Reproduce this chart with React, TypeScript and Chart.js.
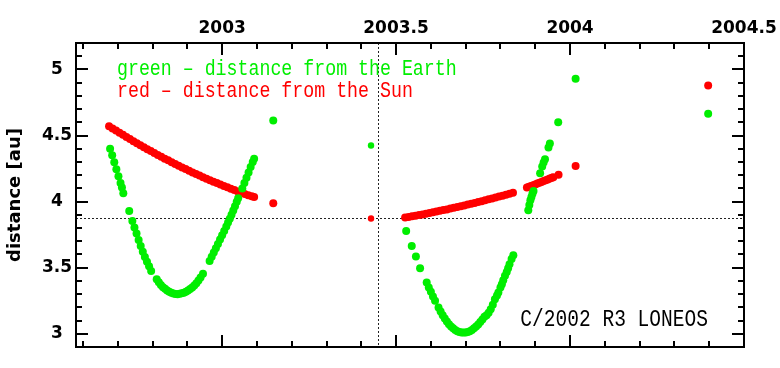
import React, { useEffect, useRef } from 'react';
import { Chart, registerables } from 'chart.js';
Chart.register(...registerables);

// ---- data ----
const earthYears = [
  2002.678, 2002.684, 2002.690, 2002.696, 2002.702, 2002.708, 2002.712,
  2002.716, 2002.733,
  2002.742, 2002.748, 2002.754, 2002.760, 2002.766, 2002.772, 2002.778, 2002.784, 2002.790, 2002.796,
  2002.812, 2002.818, 2002.824, 2002.830, 2002.836, 2002.842, 2002.848, 2002.854, 2002.860, 2002.866,
  2002.872, 2002.878, 2002.884, 2002.890, 2002.896, 2002.902, 2002.908, 2002.914, 2002.920, 2002.926,
  2002.932, 2002.938, 2002.945,
  2002.964, 2002.970, 2002.976, 2002.982, 2002.988, 2002.994, 2003.000, 2003.006, 2003.012, 2003.017,
  2003.022, 2003.027, 2003.032, 2003.037, 2003.042, 2003.046,
  2003.058, 2003.064, 2003.070, 2003.076, 2003.082, 2003.088, 2003.092,
  2003.147,
  2003.529, 2003.545, 2003.557, 2003.569,
  2003.588, 2003.594, 2003.600, 2003.606, 2003.612,
  2003.622, 2003.628, 2003.634, 2003.640, 2003.646, 2003.652, 2003.658, 2003.664, 2003.670, 2003.676,
  2003.682, 2003.688, 2003.694, 2003.700, 2003.706, 2003.712, 2003.718, 2003.724, 2003.730, 2003.736,
  2003.742, 2003.748, 2003.754, 2003.760, 2003.766, 2003.772, 2003.778, 2003.784, 2003.790, 2003.794,
  2003.800, 2003.804, 2003.808, 2003.813, 2003.818, 2003.822, 2003.826, 2003.832, 2003.837,
  2003.880, 2003.883, 2003.886, 2003.889, 2003.892, 2003.895,
  2003.914, 2003.920, 2003.924, 2003.928, 2003.938, 2003.942, 2003.966,
  2004.016, 2004.397,
];
const earthDist = [
  4.400, 4.350, 4.298, 4.245, 4.192, 4.140, 4.106,
  4.063, 3.929,
  3.853, 3.805, 3.758, 3.710, 3.664, 3.620, 3.580, 3.545, 3.510, 3.475,
  3.413, 3.390, 3.370, 3.353, 3.340, 3.328, 3.318, 3.310, 3.304, 3.301,
  3.300, 3.302, 3.306, 3.311, 3.318, 3.327, 3.338, 3.351, 3.366, 3.383,
  3.403, 3.425, 3.455,
  3.551, 3.583, 3.615, 3.648, 3.680, 3.713, 3.746, 3.778, 3.812, 3.841,
  3.870, 3.900, 3.932, 3.965, 3.998, 4.025,
  4.100, 4.140, 4.180, 4.220, 4.262, 4.300, 4.325,
  4.614,
  3.778, 3.664, 3.584, 3.496,
  3.388, 3.350, 3.318, 3.283, 3.249,
  3.199, 3.168, 3.140, 3.115, 3.093, 3.073, 3.056, 3.041, 3.029, 3.020,
  3.014, 3.010, 3.009, 3.010, 3.014, 3.020, 3.029, 3.041, 3.055, 3.071,
  3.089, 3.108, 3.128, 3.140, 3.160, 3.185, 3.220, 3.262, 3.290, 3.312,
  3.350, 3.375, 3.405, 3.440, 3.468, 3.495, 3.526, 3.565, 3.594,
  3.934, 3.975, 4.010, 4.035, 4.060, 4.080,
  4.214, 4.265, 4.295, 4.320, 4.410, 4.440, 4.600,
  4.930, 4.665,
];

const sunYears = [
  2002.675, 2002.685, 2002.695, 2002.705, 2002.715, 2002.725, 2002.735, 2002.745, 2002.755, 2002.765,
  2002.775, 2002.785, 2002.795, 2002.805, 2002.815, 2002.825, 2002.835, 2002.845, 2002.855, 2002.865,
  2002.875, 2002.885, 2002.895, 2002.905, 2002.915, 2002.925, 2002.935, 2002.945, 2002.955, 2002.965,
  2002.975, 2002.985, 2002.995, 2003.005, 2003.015, 2003.025, 2003.035, 2003.045, 2003.055, 2003.065,
  2003.075, 2003.085, 2003.092,
  2003.147,
  2003.526, 2003.536, 2003.546, 2003.556, 2003.566, 2003.576, 2003.586, 2003.596, 2003.606, 2003.616,
  2003.626, 2003.636, 2003.646, 2003.656, 2003.666, 2003.676, 2003.686, 2003.696, 2003.706, 2003.716,
  2003.726, 2003.736, 2003.746, 2003.756, 2003.766, 2003.776, 2003.786, 2003.796, 2003.806, 2003.816,
  2003.826, 2003.836,
  2003.876, 2003.882, 2003.888, 2003.894, 2003.900, 2003.906, 2003.912, 2003.918, 2003.924, 2003.930,
  2003.936, 2003.942, 2003.948, 2003.952,
  2003.967, 2004.016, 2004.397,
];
const sunDist = [
  4.571, 4.554, 4.538, 4.521, 4.505, 4.489, 4.473, 4.457, 4.442, 4.427,
  4.412, 4.397, 4.382, 4.368, 4.353, 4.339, 4.325, 4.312, 4.298, 4.285,
  4.272, 4.259, 4.246, 4.233, 4.221, 4.209, 4.197, 4.185, 4.173, 4.162,
  4.151, 4.140, 4.129, 4.118, 4.108, 4.097, 4.087, 4.077, 4.068, 4.058,
  4.049, 4.040, 4.035,
  3.987,
  3.879, 3.884, 3.889, 3.893, 3.898, 3.903, 3.909, 3.914, 3.919, 3.925,
  3.930, 3.936, 3.941, 3.947, 3.953, 3.959, 3.965, 3.971, 3.978, 3.984,
  3.990, 3.997, 4.003, 4.010, 4.017, 4.023, 4.031, 4.038, 4.045, 4.052,
  4.060, 4.067,
  4.106, 4.112, 4.118, 4.124, 4.130, 4.137, 4.143, 4.149, 4.155, 4.162,
  4.168, 4.174, 4.180, 4.185,
  4.204, 4.269, 4.879,
];

// single observation close to perihelion (drawn slightly smaller)
const epochYears = [2003.428];
const epochEarth = [4.425];
const epochSun = [3.872];

const perihelionYear = 2003.447;
const perihelionDist = 3.874;

const xTickValues = [2003, 2003.5, 2004, 2004.5];
const xTickLabels = ['2003', '2003.5', '2004', '2004.5'];
const yTickValues = [3, 3.5, 4, 4.5, 5];
const yTickLabels = ['3', '3.5', '4', '4.5', '5'];
const xMin = 2002.58;
const xMax = 2004.5;
const yMin = 2.9;
const yMax = 5.2;

const yTitle = 'distance [au]';
const legendLines = ['green \u2013 distance from the Earth', 'red \u2013 distance from the Sun'];
const objectName = 'C/2002 R3 LONEOS';

const GREEN = '#00ee00';
const RED = '#ff0000';

const toPoints = (xs: number[], ys: number[]) => xs.map((x, i) => ({ x, y: ys[i] }));

const drawScaledText = (ctx: any, text: string, x: number, y: number, sx: number, align: string) => {
  ctx.save();
  ctx.translate(x, y);
  ctx.scale(sx, 1);
  ctx.textAlign = align;
  ctx.fillText(text, 0, 0);
  ctx.restore();
};

const decorPlugin = {
  id: 'decor',
  beforeDatasetsDraw(chart: any) {
    const { ctx, chartArea: a, scales } = chart;
    const px = Math.round(scales.x.getPixelForValue(perihelionYear)) + 0.5;
    const py = Math.round(scales.y.getPixelForValue(perihelionDist)) + 0.5;
    ctx.save();
    ctx.strokeStyle = '#222';
    ctx.lineWidth = 1;
    ctx.setLineDash([2, 2]);
    ctx.beginPath();
    ctx.moveTo(px, a.top);
    ctx.lineTo(px, a.bottom);
    ctx.moveTo(a.left, py);
    ctx.lineTo(a.right, py);
    ctx.stroke();
    ctx.restore();
  },
  afterDraw(chart: any) {
    const { ctx, chartArea: a, scales } = chart;
    const sx = scales.x;
    const sy = scales.y;
    ctx.save();
    ctx.setLineDash([]);
    ctx.strokeStyle = '#000';
    ctx.lineWidth = 2;
    ctx.strokeRect(a.left, a.top, a.right - a.left, a.bottom - a.top);
    ctx.beginPath();
    for (let i = Math.ceil(xMin * 10); i <= Math.floor(xMax * 10 + 1e-6); i++) {
      const p = Math.round(sx.getPixelForValue(i / 10));
      const L = i % 5 === 0 ? 12 : 6;
      ctx.moveTo(p, a.top);
      ctx.lineTo(p, a.top + L);
      ctx.moveTo(p, a.bottom);
      ctx.lineTo(p, a.bottom - L);
    }
    for (let i = Math.ceil(yMin * 10); i <= Math.floor(yMax * 10 + 1e-6); i++) {
      const p = Math.round(sy.getPixelForValue(i / 10));
      const L = i % 5 === 0 ? 12 : 6;
      ctx.moveTo(a.left, p);
      ctx.lineTo(a.left + L, p);
      ctx.moveTo(a.right, p);
      ctx.lineTo(a.right - L, p);
    }
    ctx.stroke();

    ctx.textBaseline = 'alphabetic';
    ctx.font = '22px "Liberation Mono"';
    ctx.fillStyle = GREEN;
    drawScaledText(ctx, legendLines[0], a.left + 41, a.top + 32, 0.83, 'left');
    ctx.fillStyle = RED;
    drawScaledText(ctx, legendLines[1], a.left + 41, a.top + 54, 0.83, 'left');

    ctx.fillStyle = '#000';
    ctx.font = '23px "Liberation Mono"';
    drawScaledText(ctx, objectName, a.right - 36, a.bottom - 21, 0.85, 'right');
    ctx.restore();
  },
};

export default function App() {
  const ref = useRef<HTMLCanvasElement | null>(null);
  useEffect(() => {
    if (!ref.current) return;
    const tickFont = { family: '"DejaVu Sans"', size: 17, weight: 'bold' as const };
    const chart = new Chart(ref.current, {
      type: 'scatter',
      data: {
        datasets: [
          {
            label: 'Earth (epoch)',
            data: toPoints(epochYears, epochEarth),
            backgroundColor: GREEN,
            borderWidth: 0,
            pointRadius: 3.2,
          },
          {
            label: 'Sun (epoch)',
            data: toPoints(epochYears, epochSun),
            backgroundColor: RED,
            borderWidth: 0,
            pointRadius: 3.2,
          },
          {
            label: 'distance from the Earth',
            data: toPoints(earthYears, earthDist),
            backgroundColor: GREEN,
            borderWidth: 0,
            pointRadius: 4,
          },
          {
            label: 'distance from the Sun',
            data: toPoints(sunYears, sunDist),
            backgroundColor: RED,
            borderWidth: 0,
            pointRadius: 4,
          },
        ],
      },
      options: {
        animation: false,
        responsive: false,
        devicePixelRatio: 1,
        layout: { padding: { left: 0, top: 0, right: 36, bottom: 21 } },
        plugins: { legend: { display: false }, tooltip: { enabled: false } },
        events: [],
        scales: {
          x: {
            type: 'linear',
            position: 'top',
            min: xMin,
            max: xMax,
            afterBuildTicks: (s: any) => {
              s.ticks = xTickValues.map((v) => ({ value: v }));
            },
            afterFit: (s: any) => {
              s.height = 43;
              s.paddingLeft = 0;
              s.paddingRight = 0;
            },
            grid: { display: false, drawTicks: false },
            border: { display: false },
            ticks: {
              callback: (v: any) => xTickLabels[xTickValues.indexOf(Number(v))],
              font: tickFont,
              color: '#000',
              padding: 4,
              maxRotation: 0,
              autoSkip: false,
            },
          },
          y: {
            type: 'linear',
            position: 'left',
            min: yMin,
            max: yMax,
            afterBuildTicks: (s: any) => {
              s.ticks = yTickValues.map((v) => ({ value: v }));
            },
            afterFit: (s: any) => {
              s.width = 76;
              s.paddingTop = 0;
              s.paddingBottom = 0;
            },
            grid: { display: false, drawTicks: false },
            border: { display: false },
            title: {
              display: true,
              text: yTitle,
              color: '#000',
              font: { family: '"DejaVu Sans"', size: 18, weight: 'bold' },
              padding: { top: 5, bottom: 0 },
            },
            ticks: {
              callback: (v: any) => yTickLabels[yTickValues.indexOf(Number(v))],
              font: tickFont,
              color: '#000',
              padding: 4,
              crossAlign: 'center',
              autoSkip: false,
            },
          },
        },
      },
      plugins: [decorPlugin],
    });
    return () => chart.destroy();
  }, []);
  return (
    <canvas
      ref={ref}
      width={780}
      height={368}
      style={{ position: 'absolute', left: 0, top: 0, width: 780, height: 368, background: '#fff' }}
    />
  );
}
